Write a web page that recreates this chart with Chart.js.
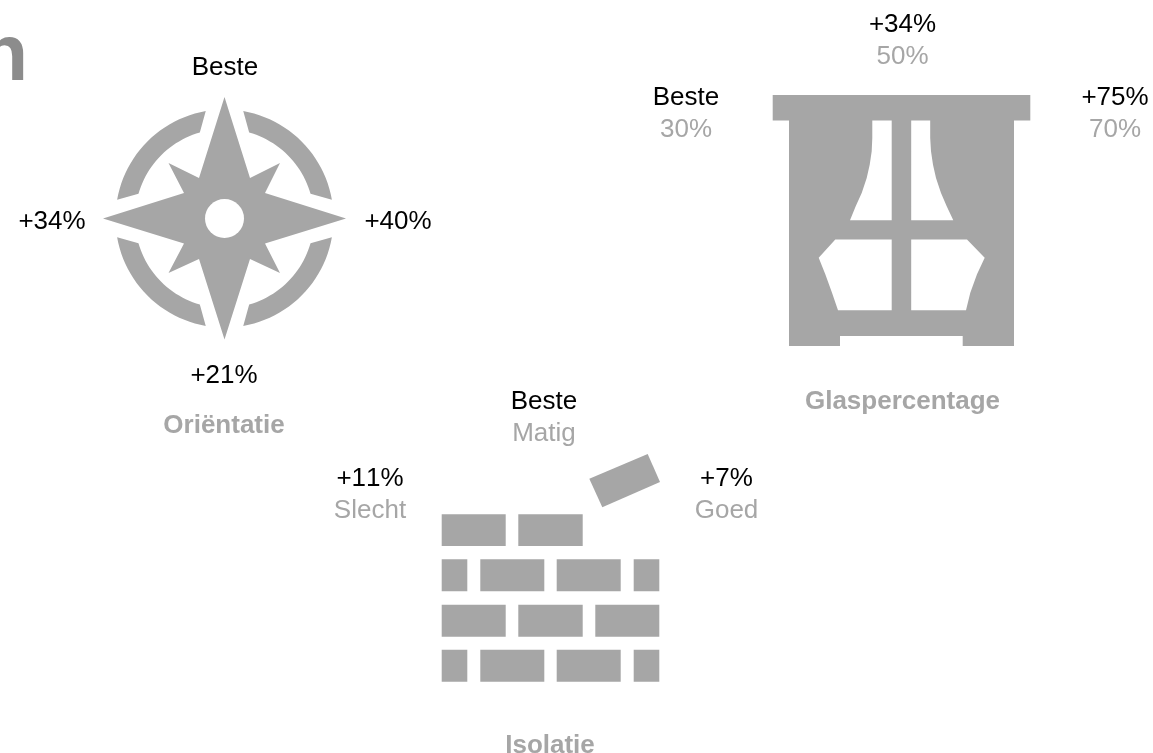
<!DOCTYPE html>
<html>
<head>
<meta charset="utf-8">
<title>Orientatie, glaspercentage, isolatie</title>
<script src="https://cdn.jsdelivr.net/npm/chart.js@4"></script>
<style>
    html, body { margin: 0; padding: 0; background: #fff; overflow: hidden; }
    canvas { display: block; }
</style>
</head>
<body>
<canvas id="grafiek" width="1153" height="753"></canvas>
<script>
/* ========= teksten ========= */
const orientatieWaarden = ['Beste', '+40%', '+21%', '+34%'];
const glasWaarden = ['+34%', 'Beste', '+75%'];
const glasNiveaus = ['50%', '30%', '70%'];
const isolatieWaarden = ['Beste', '+11%', '+7%'];
const isolatieNiveaus = ['Matig', 'Slecht', 'Goed'];
const titels = ['Oriëntatie', 'Glaspercentage', 'Isolatie'];

/* ========= plaats van de teksten (x, basislijn) ========= */
const orientatiePlek = [[225, 74.5], [398, 228.5], [224, 382.5], [52, 228.5]];
const glasPlek = [[902.5, 32], [686, 105], [1115, 105]];
const glasNiveauPlek = [[902.5, 64], [686, 137], [1115, 137]];
const isolatiePlek = [[544, 408.5], [370, 485.5], [726.5, 485.5]];
const isolatieNiveauPlek = [[544, 440.5], [370, 517.5], [726.5, 517.5]];
const titelPlek = [[224, 433], [902.5, 409], [550, 752.5]];

/* ========= iconen ========= */
const GRIJS = '#a6a6a6';

function boog(r, van, tot, stappen) {
    // hoeken in graden, met de klok mee vanaf boven, rond het midden van het kompas
    let punten = [];
    for (let i = 0; i <= stappen; i++) {
        let h = (van + (tot - van) * i / stappen) * Math.PI / 180;
        punten.push([224.5 + r * Math.sin(h), 218.5 - r * Math.cos(h)]);
    }
    return punten;
}

function ring(kwart) {
    return boog(109, kwart + 9.9, kwart + 80.1, 24).concat(boog(89.5, kwart + 74, kwart + 16, 24));
}

function blok(x0, y0, x1, y1) {
    return [[x0, y0], [x1, y0], [x1, y1], [x0, y1]];
}

const ster = [
    [224.5, 97], [250, 178], [280, 163], [265, 193], [346, 218.5], [265, 243.5], [280, 273], [250, 259],
    [224.5, 339.5], [199, 259], [168.5, 273], [184, 243.5], [103, 218.5], [184, 193], [168.5, 163], [199, 178]
];
const gordijn = [
    [772.7, 95], [1030.3, 95], [1030.3, 120.5], [1014, 120.5], [1014, 346], [962.7, 346], [962.7, 336],
    [840, 336], [840, 346], [789, 346], [789, 120.5], [772.7, 120.5]
];
const ruitLinksBoven = [
    [872.3, 120.5], [891.7, 120.5], [891.7, 220.3], [850, 220.3], [855.7, 206.3], [861.7, 193],
    [866.7, 178], [869.7, 164.7], [871.7, 151.3], [872.3, 138]
];
const ruitRechtsBoven = [
    [911.2, 120.5], [930.2, 120.5], [930.2, 138], [931, 151.3], [933, 164.7], [936, 178],
    [941, 193], [946.7, 206.3], [953.3, 220.3], [911.2, 220.3]
];
const ruitLinksOnder = [
    [891.7, 239.5], [891.7, 310.3], [838, 310.3], [832, 292.7], [825.3, 274.3], [818.7, 257.7], [835.3, 239.5]
];
const ruitRechtsOnder = [
    [911.2, 239.5], [967, 239.5], [984.7, 257.7], [977, 274.3], [970.3, 292.7], [966, 310.3], [911.2, 310.3]
];
const lossesteen = [[589.3, 478.7], [647.7, 454], [660, 482], [602.3, 507.3]];
const stenen = [
    blok(441.7, 514.3, 505.7, 546), blok(518.3, 514.3, 582.7, 546),
    blok(441.7, 559.3, 467.3, 591.3), blok(480.3, 559.3, 544.3, 591.3), blok(556.7, 559.3, 620.7, 591.3), blok(633.7, 559.3, 659.3, 591.3),
    blok(441.7, 604.7, 505.7, 636.7), blok(518.3, 604.7, 582.7, 636.7), blok(595.3, 604.7, 659.3, 636.7),
    blok(441.7, 649.7, 467.3, 681.7), blok(480.3, 649.7, 544.3, 681.7), blok(556.7, 649.7, 620.7, 681.7), blok(633.7, 649.7, 659.3, 681.7)
];

const grijzeVormen = [ster, ring(0), ring(90), ring(180), ring(270), gordijn, lossesteen].concat(stenen);
const witteVormen = [ruitLinksBoven, ruitRechtsBoven, ruitLinksOnder, ruitRechtsOnder];

function vormDataset(vorm, kleur, volgorde) {
    return {
        data: vorm.concat([vorm[0]]).map(p => ({ x: p[0], y: p[1] })),
        showLine: true,
        fill: 'shape',
        backgroundColor: kleur,
        borderWidth: 0,
        pointRadius: 0,
        order: volgorde
    };
}

let datasets = grijzeVormen.map(v => vormDataset(v, GRIJS, 2))
    .concat(witteVormen.map(v => vormDataset(v, '#fff', 1)));

// gat in het midden van het kompas
datasets.push({
    data: [{ x: 224.5, y: 218.5 }],
    showLine: false,
    pointRadius: 19.5,
    pointBackgroundColor: '#fff',
    pointBorderWidth: 0,
    order: 0
});

/* ========= teksten tekenen via de schalen ========= */
const tekstPlugin = {
    id: 'teksten',
    afterDraw(chart) {
        let ctx = chart.ctx;
        let sx = chart.scales.x;
        let sy = chart.scales.y;

        function schrijf(teksten, plekken, kleur, font) {
            ctx.fillStyle = kleur;
            ctx.font = font;
            teksten.forEach((t, i) => {
                ctx.fillText(t, sx.getPixelForValue(plekken[i][0]), sy.getPixelForValue(plekken[i][1]));
            });
        }

        ctx.save();
        ctx.textAlign = 'center';
        ctx.textBaseline = 'alphabetic';
        ctx.fontKerning = 'none';
        let gewoon = '26px "Liberation Sans", Arial, sans-serif';
        schrijf(orientatieWaarden, orientatiePlek, '#000', gewoon);
        schrijf(glasWaarden, glasPlek, '#000', gewoon);
        schrijf(isolatieWaarden, isolatiePlek, '#000', gewoon);
        schrijf(glasNiveaus, glasNiveauPlek, GRIJS, gewoon);
        schrijf(isolatieNiveaus, isolatieNiveauPlek, GRIJS, gewoon);
        schrijf(titels, titelPlek, GRIJS, 'bold 26px "Liberation Sans", Arial, sans-serif');

        // afgesneden kop linksboven
        ctx.textAlign = 'right';
        ctx.fillStyle = '#8c8c8c';
        ctx.font = 'bold 80px "Liberation Sans", Arial, sans-serif';
        ctx.fillText('n', sx.getPixelForValue(28), sy.getPixelForValue(79.5));
        ctx.restore();
    }
};

new Chart(document.getElementById('grafiek'), {
    type: 'scatter',
    data: { datasets: datasets },
    options: {
        responsive: false,
        animation: false,
        layout: { padding: 0, autoPadding: false },
        scales: {
            x: { type: 'linear', display: false, min: 0, max: 1153 },
            y: { type: 'linear', display: false, min: 0, max: 753, reverse: true }
        },
        plugins: {
            legend: { display: false },
            title: { display: false },
            tooltip: { enabled: false }
        }
    },
    plugins: [tekstPlugin]
});
</script>
</body>
</html>
